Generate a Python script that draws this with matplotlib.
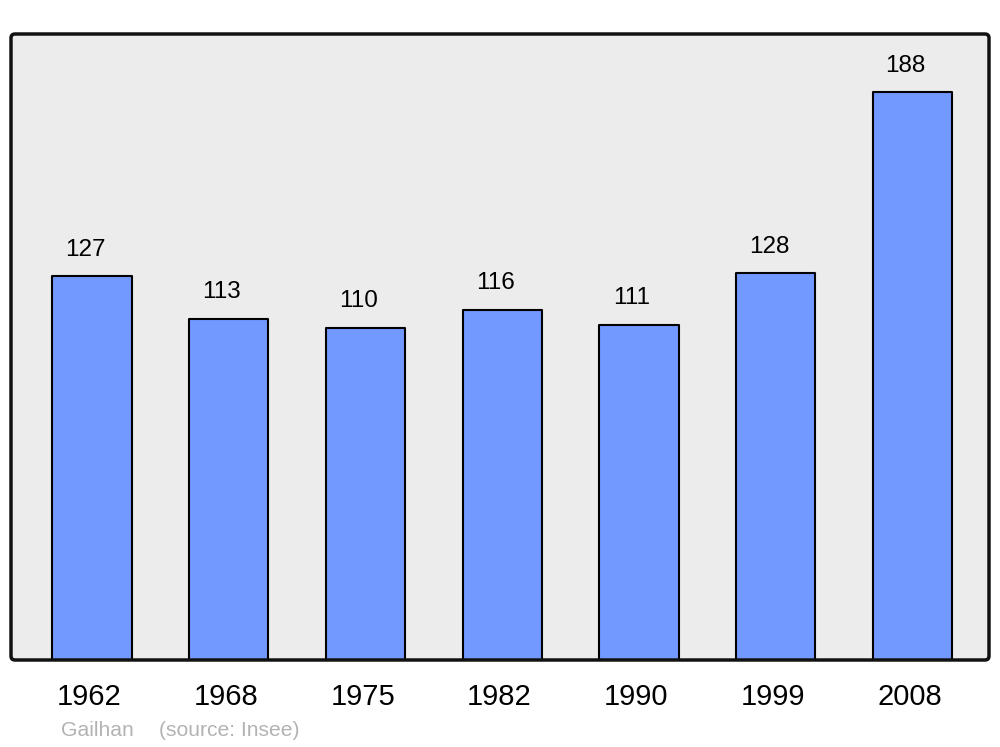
import matplotlib
matplotlib.use("Agg")
import matplotlib.pyplot as plt
import matplotlib.transforms as mtransforms
from matplotlib.patches import FancyBboxPatch

# population data
years = ["1962", "1968", "1975", "1982", "1990", "1999", "2008"]
population = [127, 113, 110, 116, 111, 128, 188]
commune = "Gailhan"
source = "(source: Insee)"

plt.rcParams["font.family"] = ["Liberation Sans", "DejaVu Sans"]

fig = plt.figure(figsize=(10, 7.47), dpi=100)
ax = fig.add_axes([0.011, 0.1165, 0.978, 0.838])
ax.set_facecolor("#ececec")

x = list(range(len(years)))
bars = ax.bar(x, population, width=0.58, color="#7299ff",
              edgecolor="black", linewidth=1.5, zorder=2)
for b in bars:
    b.set_joinstyle("round")

ax.set_xlim(-0.592, 6.559)
ax.set_ylim(0, 207.2)

# value labels above bars
for xi, v in zip(x, population):
    ax.annotate(str(v), (xi, v), xytext=(-5, 19), textcoords="offset points",
                ha="center", va="center", fontsize=17.5)

# year labels under the axis
trans = mtransforms.blended_transform_factory(ax.transData, ax.transAxes)
off = mtransforms.offset_copy(trans, fig=fig, y=-37, units="dots")
for xi, yr in zip(x, years):
    ax.text(xi - 0.02, 0, yr, transform=off, ha="center", va="center", fontsize=21)

ax.set_xticks([])
ax.set_yticks([])
for s in ax.spines.values():
    s.set_visible(False)

# rounded frame around the plot area (pixel coords)
frame = FancyBboxPatch((11, 87), 978, 626, boxstyle="round,pad=0,rounding_size=4",
                       transform=None, facecolor="none", edgecolor="#111111",
                       linewidth=2.5, zorder=5)
fig.patches.append(frame)

fig.text(0.061, 1 - 730 / 747, commune, color="#b3b3b3", fontsize=15.2, va="center")
fig.text(0.159, 1 - 730 / 747, source, color="#b3b3b3", fontsize=15.2, va="center")

fig.savefig("out.png", dpi=100)
